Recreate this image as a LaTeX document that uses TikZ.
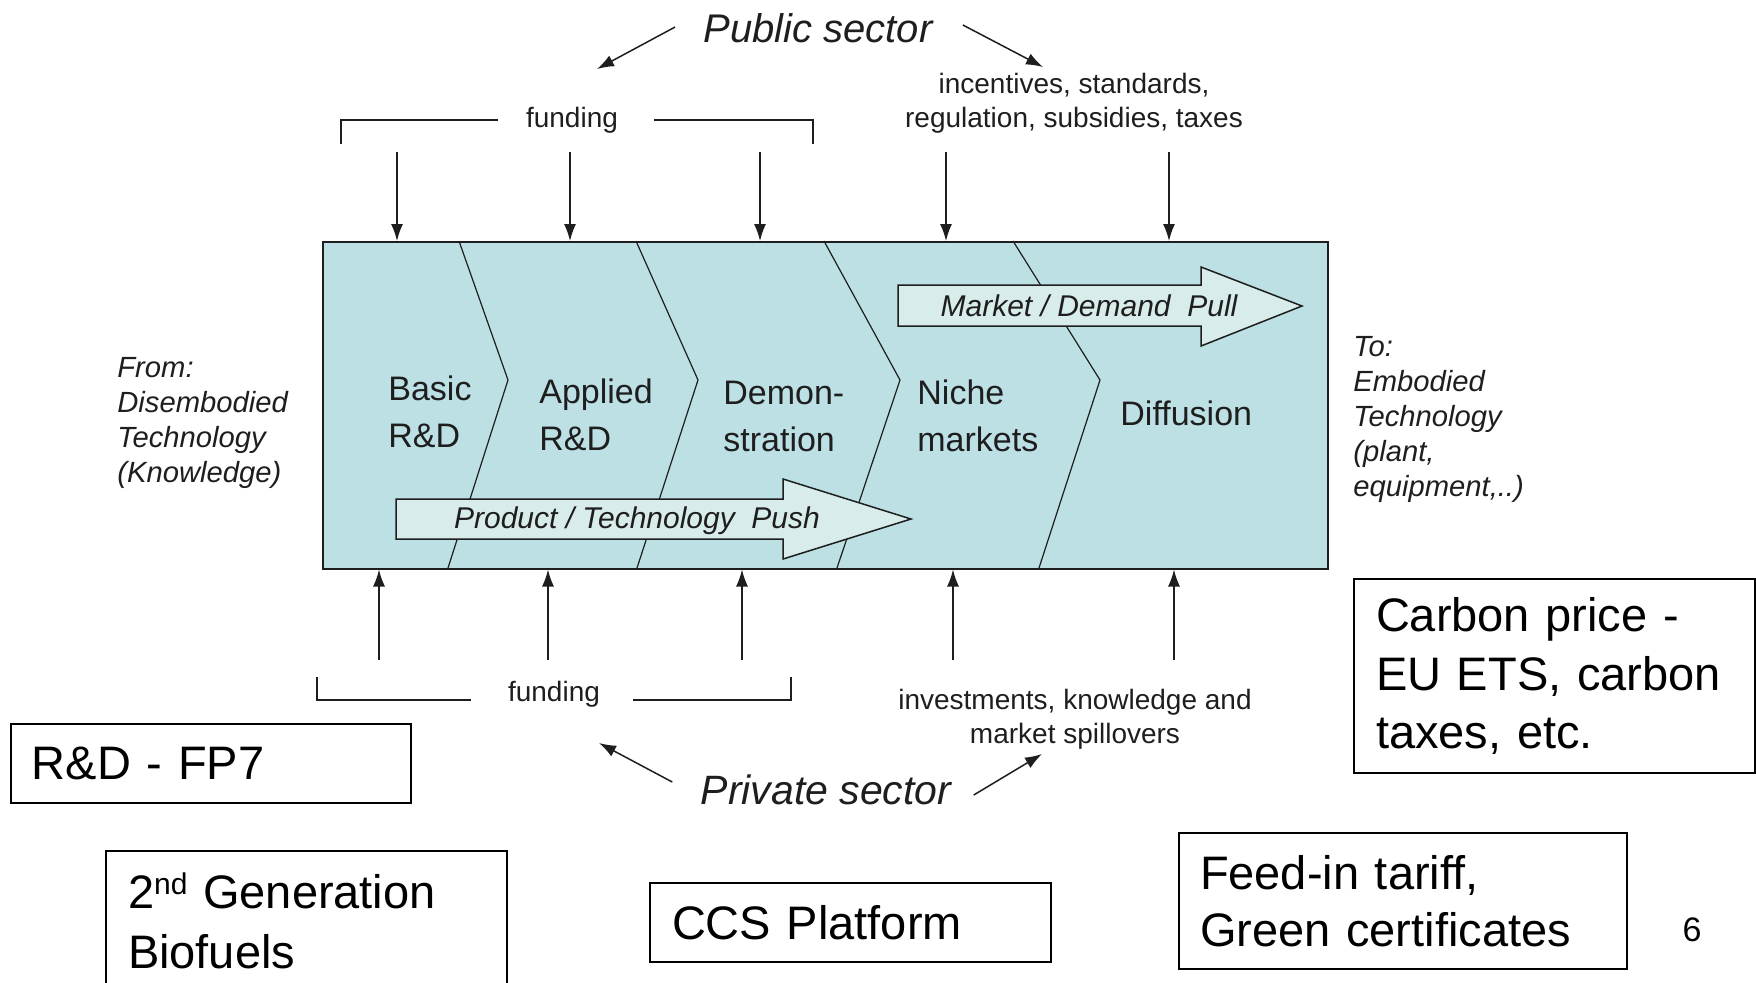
\documentclass[tikz,border=0pt]{standalone}
\usepackage{fontspec}
\setmainfont{Liberation Sans}
\usetikzlibrary{arrows.meta}
\definecolor{boxfill}{RGB}{188,224,228}
\definecolor{arrfill}{RGB}{216,237,235}
\definecolor{ink}{RGB}{30,30,30}
\newcommand{\supnd}{\raisebox{0.55ex}{\fontsize{15}{15}\selectfont nd}}
\begin{document}
\begin{tikzpicture}[x=0.5pt,y=-0.5pt,
  arr/.style={line width=0.75pt, ink, -{Latex[length=8.5pt,width=6pt]}},
  stage/.style={font=\fontsize{17}{23.5}\selectfont, align=left, anchor=west, inner sep=0pt, text=ink},
  small/.style={font=\fontsize{14}{17}\selectfont, align=center, inner sep=0pt, text=ink},
  side/.style={font=\fontsize{14.6}{17.5}\selectfont\itshape, align=left, anchor=west, inner sep=0pt, text=ink},
  sector/.style={font=\fontsize{20}{22}\selectfont\itshape, inner sep=0pt, text=ink},
  flow/.style={font=\fontsize{15}{18}\selectfont\itshape, inner sep=0pt, text=ink},
  bigbox/.style={draw, line width=1pt, anchor=north west, align=left, inner ysep=0pt},
  chev/.style={line width=0.6pt, ink},
  bracket/.style={line width=0.7pt, ink},
  flowarrow/.style={line width=0.75pt, draw=ink, fill=arrfill}
]
\useasboundingbox (0,0) rectangle (1756,982);
\clip (0,0) rectangle (1756,982);

% main stage box
\node[draw=ink, fill=boxfill, line width=0.75pt, minimum width=502.5pt, minimum height=163.5pt, inner sep=0pt, anchor=north west] (box) at (322,241) {};

% chevron boundaries
\draw[chev] (459,241) -- (508,380) -- (448,568);
\draw[chev] (636,241) -- (698,380) -- (637,568);
\draw[chev] (824,241) -- (900,380) -- (837,568);
\draw[chev] (1013,241) -- (1100,380) -- (1039,568);

% flow arrows
\draw[flowarrow] (898,285) -- (1201,285) -- (1201,267) -- (1302,306) -- (1201,346) -- (1201,326) -- (898,326) -- cycle;
\node[flow] (pull) at (1089,306) {Market / Demand\ \ Pull};
\draw[flowarrow] (396,499) -- (783,499) -- (783,479) -- (911,519) -- (783,559) -- (783,539) -- (396,539) -- cycle;
\node[flow] (push) at (637,521) {Product / Technology\ \ Push};

% stage labels
\node[stage] (basic) at (388,412) {Basic\\R\&D};
\node[stage] (applied) at (539,415) {Applied\\R\&D};
\node[stage] (demo) at (723,416) {Demon-\\stration};
\node[stage] (niche) at (917,416) {Niche\\markets};
\node[stage] (diff) at (1120,413) {Diffusion};

% side labels
\node[side] (from) at (117,423) {From:\\Disembodied\\Technology\\(Knowledge)};
\node[side] (to) at (1353,419) {To:\\Embodied\\Technology\\(plant,\\equipment,..)};

% public sector
\node[sector] (pub) at (818,28) {Public sector};
\coordinate (pubL) at (597,69);
\coordinate (pubR) at (1043,67);
\draw[arr] ([xshift=-14pt,yshift=0.5pt]pub.west) -- (pubL);
\draw[arr] ([xshift=15pt,yshift=1.5pt]pub.east) -- (pubR);

\node[small] (ftop) at (572,120) {funding};
\draw[bracket] (498,120) -- (341,120) -- (341,144);
\draw[bracket] (654,120) -- (813,120) -- (813,144);
\node[small] (incent) at (1074,103) {incentives, standards,\\regulation, subsidies, taxes};

\foreach \x [count=\i] in {397,570,760,946,1169} {
  \coordinate (d\i) at (\x,152);
  \draw[arr] (d\i) -- (d\i |- box.north);
}

% private sector
\foreach \x [count=\i] in {379,548,742,953,1174} {
  \coordinate (u\i) at (\x,660);
  \draw[arr] (u\i) -- (u\i |- box.south);
}
\node[small] (fbot) at (554,694) {funding};
\draw[bracket] (471,700) -- (317,700) -- (317,677);
\draw[bracket] (633,700) -- (791,700) -- (791,677);
\node[small] (invest) at (1075,719) {investments, knowledge and\\market spillovers};

\node[sector, font=\fontsize{20.5}{22}\selectfont\itshape] (priv) at (826,790) {Private sector};
\coordinate (privL) at (599,743);
\coordinate (privR) at (1042,754);
\draw[arr] ([xshift=-14pt,yshift=4pt]priv.west) -- (privL);
\draw[arr] ([xshift=11pt,yshift=-2.5pt]priv.east) -- (privR);

% policy boxes
\node[bigbox, font=\fontsize{23.5}{29}\selectfont, inner xsep=10.5pt, text width=179pt, minimum height=39.5pt] (rd) at (10,723) {R\&D - FP7};
\node[bigbox, font=\fontsize{23.5}{30}\selectfont, inner xsep=11pt, text width=178.5pt, minimum height=70pt] (bio) at (105,850) {2\supnd{} Generation\\Biofuels};
\node[bigbox, font=\fontsize{23.5}{29}\selectfont, inner xsep=11pt, text width=178.5pt, minimum height=39.5pt] (ccs) at (649,882) {CCS Platform};
\node[bigbox, font=\fontsize{23.5}{29.25}\selectfont, inner xsep=11pt, text width=178.5pt, minimum height=97pt] (carbon) at (1353,578) {Carbon price -\\EU ETS, carbon\\taxes, etc.};
\node[bigbox, font=\fontsize{23.5}{28.5}\selectfont, inner xsep=10.5pt, text width=203pt, minimum height=68pt] (feed) at (1178,832) {Feed-in tariff,\\Green certificates};
\node[font=\fontsize{17}{20}\selectfont, inner sep=0pt] (pg) at (1692,930) {6};
\end{tikzpicture}
\end{document}
